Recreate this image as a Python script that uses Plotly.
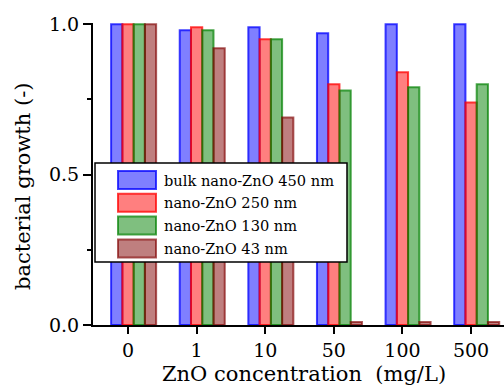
import plotly.graph_objects as go

categories = ["0", "1", "10", "50", "100", "500"]
series_names = ["bulk nano-ZnO 450 nm", "nano-ZnO 250 nm", "nano-ZnO 130 nm", "nano-ZnO 43 nm"]
bulk_450 = [1.00, 0.98, 0.99, 0.97, 1.00, 1.00]
nano_250 = [1.00, 0.99, 0.95, 0.80, 0.84, 0.74]
nano_130 = [1.00, 0.98, 0.95, 0.78, 0.79, 0.80]
nano_43 = [1.00, 0.92, 0.69, 0.01, 0.01, 0.01]
y_ticks = [0.0, 0.5, 1.0]
y_ticktext = ["0.0", "0.5", "1.0"]

fills = ["rgba(0,0,255,0.5)", "rgba(255,0,0,0.5)", "rgba(0,128,0,0.5)", "rgba(128,0,0,0.5)"]
lines = ["rgba(0,0,255,0.75)", "rgba(255,0,0,0.75)", "rgba(0,128,0,0.7)", "rgba(128,0,0,0.65)"]

W, H = 504, 387
L, R, T, B = 93, 504, 23, 325
def px(x):
    return (x - L) / (R - L)
def py(y):
    return (B - y) / (B - T)

w = 0.164
xpos = list(range(len(categories)))
fig = go.Figure()
for i, (name, vals) in enumerate(zip(series_names, [bulk_450, nano_250, nano_130, nano_43])):
    fig.add_trace(go.Bar(
        x=xpos, y=vals, name=name, width=w, offset=-1.5 * w + i * w,
        marker=dict(color=fills[i], line=dict(color=lines[i], width=2)),
        showlegend=False,
    ))

serif = "DejaVu Serif"
fig.update_layout(
    width=W, height=H, barmode="overlay",
    margin=dict(l=L, r=W - R, t=T, b=H - B, pad=0),
    plot_bgcolor="white", paper_bgcolor="white",
    font=dict(family=serif, color="black", size=19),
)
fig.update_xaxes(
    range=[-0.51, 5.48], tickvals=xpos, ticktext=categories,
    showline=True, linecolor="black", linewidth=2,
    ticks="outside", ticklen=7, tickwidth=2, tickcolor="black",
    showgrid=False, zeroline=False, tickfont=dict(size=19, family=serif),
)
fig.update_yaxes(
    range=[0, 1.004], tickvals=y_ticks, ticktext=y_ticktext,
    showline=True, linecolor="black", linewidth=2,
    ticks="outside", ticklen=8, tickwidth=2, tickcolor="black",
    minor=dict(tickvals=[0.25, 0.75], ticks="outside", ticklen=4, tickwidth=2, tickcolor="black", showgrid=False),
    showgrid=False, zeroline=False, tickfont=dict(size=19, family=serif),
)

# titles
fig.add_annotation(text="ZnO concentration&nbsp;&nbsp;(mg/L)", xref="paper", yref="paper",
                   x=px(304), y=py(374), xanchor="center", yanchor="middle",
                   showarrow=False, font=dict(size=21, family=serif))
fig.add_annotation(text="bacterial growth (-)", xref="paper", yref="paper",
                   x=px(23), y=py(187), xanchor="center", yanchor="middle", textangle=-90,
                   showarrow=False, font=dict(size=21, family=serif))

# legend box
fig.add_shape(type="rect", xref="paper", yref="paper", x0=px(95), x1=px(347), y0=py(262), y1=py(163),
              fillcolor="white", line=dict(color="black", width=1.5), layer="above")
for i, name in enumerate(series_names):
    y0 = 171 + i * 22.8
    fig.add_shape(type="rect", xref="paper", yref="paper", x0=px(118), x1=px(156), y0=py(y0 + 18), y1=py(y0),
                  fillcolor=fills[i], line=dict(color=lines[i], width=2), layer="above")
    fig.add_annotation(text=name, xref="paper", yref="paper", x=px(162), y=py(y0 + 9),
                       xanchor="left", yanchor="middle", showarrow=False, font=dict(size=14.6, family=serif))

fig.write_html("out.html")
